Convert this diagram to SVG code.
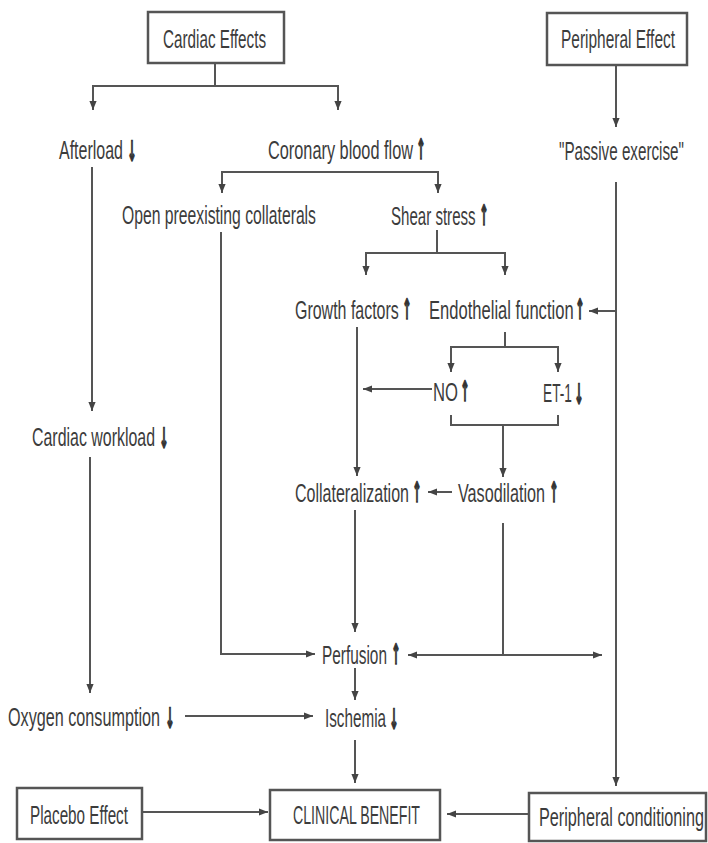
<svg xmlns="http://www.w3.org/2000/svg" width="708" height="843" viewBox="0 0 708 843">
<style>
  .box { fill: #ffffff; stroke: #555555; stroke-width: 2.5; }
  .t { font-family: "Liberation Sans", Arial, sans-serif; font-size: 26px; fill: #3c3c3c; }
  .ar { font-family: "DejaVu Sans", sans-serif; font-weight: bold; font-size: 28px; fill: #333333; stroke: #333333; stroke-width: 1.5; text-anchor: middle; }
  .c { fill: none; stroke: #555555; stroke-width: 2; }
  .a { marker-end: url(#ah); }
  .ab { marker-start: url(#ah); marker-end: url(#ah); }
</style>
<defs>
  <marker id="ah" viewBox="0 0 10 10" refX="10" refY="5" markerWidth="9" markerHeight="9" markerUnits="userSpaceOnUse" orient="auto-start-reverse">
    <path d="M0,1 L10,5 L0,9 z" fill="#444444"/>
  </marker>
</defs>
<rect width="708" height="843" fill="#ffffff"/>

<g id="connectors">
  <path class="c" d="M215,63 V86"/>
  <path class="c ab" d="M93,110 V86 H338 V110"/>
  <path class="c a" d="M616,66 V127"/>
  <path class="c a" d="M92,167 V411"/>
  <path class="c ab" d="M222,193 V172 H438 V193"/>
  <path class="c a" d="M221,232 V654 H315"/>
  <path class="c a" d="M616,182 V786"/>
  <path class="c a" d="M616,311 H589"/>
  <path class="c" d="M437,230 V253"/>
  <path class="c ab" d="M366,275 V253 H505 V275"/>
  <path class="c" d="M505,332 V347"/>
  <path class="c ab" d="M451,372 V347 H558 V372"/>
  <path class="c a" d="M432,389 H363"/>
  <path class="c" d="M451,415 V425 H558 V415"/>
  <path class="c a" d="M503,425 V477"/>
  <path class="c a" d="M357,327 V476"/>
  <path class="c a" d="M452,492 H428"/>
  <path class="c a" d="M355,510 V632"/>
  <path class="c" d="M503,523 V655"/>
  <path class="c ab" d="M408,655 H602"/>
  <path class="c a" d="M355,668 V700"/>
  <path class="c a" d="M185,716 H313"/>
  <path class="c a" d="M90,457 V693"/>
  <path class="c a" d="M355,740 V783"/>
  <path class="c a" d="M142,812 H268"/>
  <path class="c a" d="M530,814 H447"/>
</g>

<g id="cardiac-effects">
  <rect class="box" x="148" y="12" width="136" height="51"/>
  <text class="t" transform="translate(163,48) scale(0.6,1)" textLength="171.7" lengthAdjust="spacingAndGlyphs">Cardiac Effects</text>
</g>
<g id="peripheral-effect">
  <rect class="box" x="547" y="13" width="140" height="52"/>
  <text class="t" transform="translate(561,48) scale(0.6,1)" textLength="190" lengthAdjust="spacingAndGlyphs">Peripheral Effect</text>
</g>
<g id="afterload">
  <text class="t" transform="translate(59,159) scale(0.6,1)" textLength="106.7" lengthAdjust="spacingAndGlyphs">Afterload</text>
  <text class="ar" transform="translate(132,161) scale(0.38,1)">↓</text>
</g>
<g id="coronary-blood-flow">
  <text class="t" transform="translate(268,159) scale(0.6,1)" textLength="241.7" lengthAdjust="spacingAndGlyphs">Coronary blood flow</text>
  <text class="ar" transform="translate(421,159) scale(0.38,1)">↑</text>
</g>
<g id="passive-exercise">
  <text class="t" transform="translate(559,160) scale(0.6,1)" textLength="208.3" lengthAdjust="spacingAndGlyphs">"Passive exercise"</text>
</g>
<g id="open-collaterals">
  <text class="t" transform="translate(122,224) scale(0.6,1)" textLength="323.3" lengthAdjust="spacingAndGlyphs">Open preexisting collaterals</text>
</g>
<g id="shear-stress">
  <text class="t" transform="translate(391,225) scale(0.6,1)" textLength="141" lengthAdjust="spacingAndGlyphs">Shear stress</text>
  <text class="ar" transform="translate(484,225) scale(0.38,1)">↑</text>
</g>
<g id="growth-factors">
  <text class="t" transform="translate(295,319) scale(0.6,1)" textLength="173" lengthAdjust="spacingAndGlyphs">Growth factors</text>
  <text class="ar" transform="translate(407,319) scale(0.38,1)">↑</text>
</g>
<g id="endothelial-function">
  <text class="t" transform="translate(429,319) scale(0.6,1)" textLength="241" lengthAdjust="spacingAndGlyphs">Endothelial function</text>
  <text class="ar" transform="translate(580,319) scale(0.38,1)">↑</text>
</g>
<g id="no">
  <text class="t" transform="translate(433,401) scale(0.6,1)" textLength="41.7" lengthAdjust="spacingAndGlyphs">NO</text>
  <text class="ar" transform="translate(465,401) scale(0.38,1)">↑</text>
</g>
<g id="et1">
  <text class="t" transform="translate(543,402) scale(0.6,1)" textLength="48.3" lengthAdjust="spacingAndGlyphs">ET-1</text>
  <text class="ar" transform="translate(579,404) scale(0.38,1)">↓</text>
</g>
<g id="cardiac-workload">
  <text class="t" transform="translate(32,446) scale(0.6,1)" textLength="205" lengthAdjust="spacingAndGlyphs">Cardiac workload</text>
  <text class="ar" transform="translate(164,448) scale(0.38,1)">↓</text>
</g>
<g id="collateralization">
  <text class="t" transform="translate(295,502) scale(0.6,1)" textLength="190" lengthAdjust="spacingAndGlyphs">Collateralization</text>
  <text class="ar" transform="translate(417,502) scale(0.38,1)">↑</text>
</g>
<g id="vasodilation">
  <text class="t" transform="translate(458,502) scale(0.6,1)" textLength="145" lengthAdjust="spacingAndGlyphs">Vasodilation</text>
  <text class="ar" transform="translate(554,502) scale(0.38,1)">↑</text>
</g>
<g id="perfusion">
  <text class="t" transform="translate(322,664) scale(0.6,1)" textLength="108.3" lengthAdjust="spacingAndGlyphs">Perfusion</text>
  <text class="ar" transform="translate(396,664) scale(0.38,1)">↑</text>
</g>
<g id="ischemia">
  <text class="t" transform="translate(325,727) scale(0.6,1)" textLength="101.7" lengthAdjust="spacingAndGlyphs">Ischemia</text>
  <text class="ar" transform="translate(394,729) scale(0.38,1)">↓</text>
</g>
<g id="oxygen-consumption">
  <text class="t" transform="translate(8,726) scale(0.6,1)" textLength="253.3" lengthAdjust="spacingAndGlyphs">Oxygen consumption</text>
  <text class="ar" transform="translate(170,728) scale(0.38,1)">↓</text>
</g>
<g id="placebo-effect">
  <rect class="box" x="17" y="788" width="125" height="51"/>
  <text class="t" transform="translate(30,824) scale(0.6,1)" textLength="163.3" lengthAdjust="spacingAndGlyphs">Placebo Effect</text>
</g>
<g id="clinical-benefit">
  <rect class="box" x="270" y="790" width="170" height="50"/>
  <text class="t" transform="translate(293,824) scale(0.6,1)" textLength="211.7" lengthAdjust="spacingAndGlyphs">CLINICAL BENEFIT</text>
</g>
<g id="peripheral-conditioning">
  <rect class="box" x="529" y="793" width="177" height="48"/>
  <text class="t" transform="translate(539,826) scale(0.6,1)" textLength="275" lengthAdjust="spacingAndGlyphs">Peripheral conditioning</text>
</g>
</svg>
